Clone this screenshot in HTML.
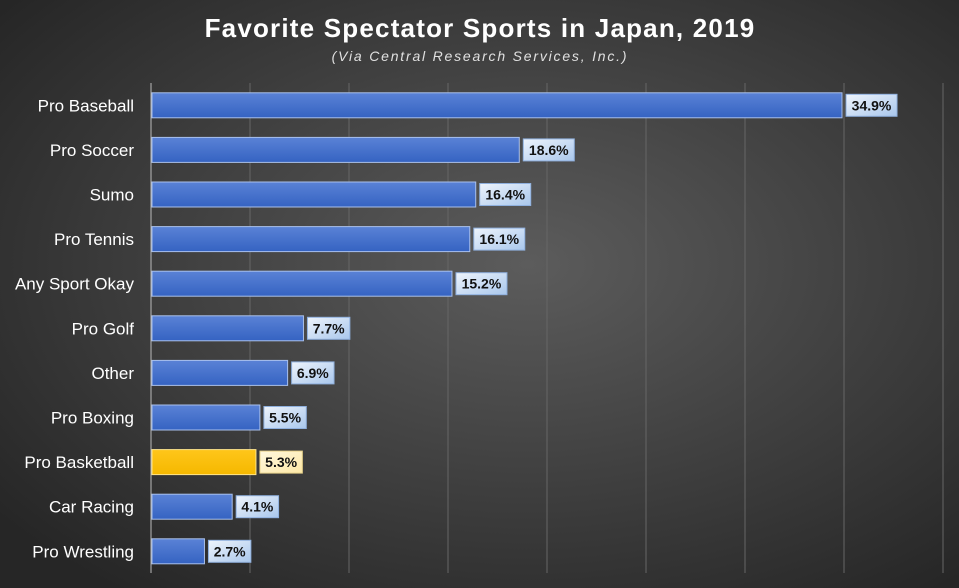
<!DOCTYPE html>
<html><head><meta charset="utf-8"><style>
body{margin:0;width:959px;height:588px;overflow:hidden;background:#333;}
svg{display:block;font-family:"Liberation Sans","DejaVu Sans",sans-serif;}
</style></head><body>
<svg id="chart" width="959" height="588">
<defs>
<radialGradient id="bg" cx="55%" cy="45%" r="70%">
<stop offset="0" stop-color="#5c5c5c"/><stop offset="1" stop-color="#262626"/></radialGradient>
<linearGradient id="blue" x1="0" y1="0" x2="0" y2="1">
<stop offset="0" stop-color="#5a82d6"/><stop offset="1" stop-color="#3563c2"/></linearGradient>
<linearGradient id="gold" x1="0" y1="0" x2="0" y2="1">
<stop offset="0" stop-color="#ffc61a"/><stop offset="1" stop-color="#f5b800"/></linearGradient>
<linearGradient id="lblb" x1="0" y1="0" x2="1" y2="1">
<stop offset="0" stop-color="#eef4fc"/><stop offset="1" stop-color="#a9c7ec"/></linearGradient>
<linearGradient id="lbly" x1="0" y1="0" x2="1" y2="1">
<stop offset="0" stop-color="#fff8df"/><stop offset="1" stop-color="#fde8a6"/></linearGradient>
</defs>
<rect width="959" height="588" fill="url(#bg)"/>
<text x="480" y="37" text-anchor="middle" fill="#fff" font-size="26" font-weight="bold" letter-spacing="1.2">Favorite Spectator Sports in Japan, 2019</text>
<text x="480" y="61" text-anchor="middle" fill="#e0e0e0" font-size="14" font-style="italic" letter-spacing="1.8">(Via Central Research Services, Inc.)</text>
<g id="grid"></g><g id="bars"></g>
</svg>
<script>
const categories=["Pro Baseball","Pro Soccer","Sumo","Pro Tennis","Any Sport Okay","Pro Golf","Other","Pro Boxing","Pro Basketball","Car Racing","Pro Wrestling"];
const values=[34.9,18.6,16.4,16.1,15.2,7.7,6.9,5.5,5.3,4.1,2.7];
const highlight=["Pro Basketball"];
const gridTicks=[5,10,15,20,25,30,35,40];
const NS="http://www.w3.org/2000/svg";
const x0=151,pxPer=19.8,top0=83,rowH=44.6,barH=25;
const xs=v=>x0+v*pxPer;
const yc=i=>top0+rowH*(i+0.5);
function mk(t,a,p){const e=document.createElementNS(NS,t);for(const k in a)e.setAttribute(k,a[k]);p.appendChild(e);return e;}
const grid=document.getElementById('grid'),bars=document.getElementById('bars');
gridTicks.forEach(t=>{
 const l=mk('line',{x1:xs(t),x2:xs(t),y1:top0,y2:573,stroke:'#666','stroke-width':1},grid);
 
 
});
const ax=mk('line',{x1:x0,x2:x0,y1:top0,y2:573,stroke:'#bbb','stroke-width':1},grid);


categories.forEach((c,i)=>{
 const v=values[i],hl=highlight.includes(c),y=yc(i);
 const lab=mk('text',{x:134,y:y+6,'text-anchor':'end',fill:'#fff','font-size':17},bars);lab.textContent=c;
 
 
 const b=mk('rect',{x:x0+1,y:y-barH/2,width:xs(v)-x0-1,height:barH,fill:hl?'url(#gold)':'url(#blue)',stroke:hl?'#ffe58a':'#a9c0ec','stroke-width':1},bars);
 
 
 const txt=v.toFixed(1)+'%',w=txt.length*8.6+8;
 const bx=mk('rect',{x:xs(v)+4,y:y-11,width:w,height:22,fill:hl?'url(#lbly)':'url(#lblb)',stroke:hl?'#e8d28a':'#8fb0de','stroke-width':1},bars);
 
 
 const t=mk('text',{x:xs(v)+4+w/2,y:y+5,'text-anchor':'middle',fill:'#111','font-size':14,'font-weight':'bold'},bars);t.textContent=txt;
 
 
});
</script>
</body></html>
